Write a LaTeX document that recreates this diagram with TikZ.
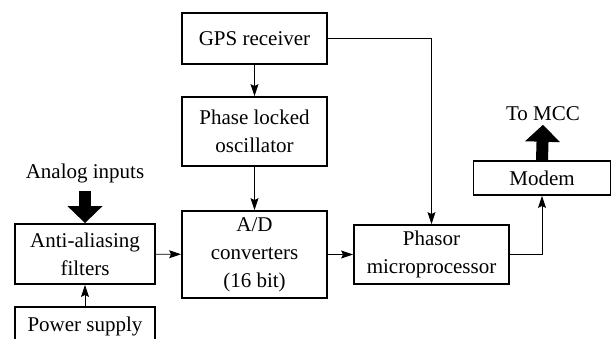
\documentclass[tikz,border=0pt]{standalone}
\usepackage{fontspec}
\setmainfont{Liberation Serif}
\usetikzlibrary{arrows.meta}
\begin{document}
\begin{tikzpicture}[x=1pt,y=-1pt,
  blk/.style={draw,line width=1.8pt,align=center,inner sep=0pt,
    font=\fontsize{21}{28}\selectfont},
  lbl/.style={anchor=base,font=\fontsize{21}{28}\selectfont},
  link/.style={line width=0.9pt,-{Stealth[length=12pt,width=8pt,inset=2pt]}},
  bigarrow/.style={line width=12pt,-{Triangle[length=17pt,width=34pt]}}]
\useasboundingbox (0,0) rectangle (612,338);
\node[blk,minimum width=145pt,minimum height=51pt] (gps) at (254.5,38.5) {GPS receiver};
\node[blk,minimum width=145pt,minimum height=69pt] (pll) at (254.5,131.5) {Phase locked\\oscillator};
\node[blk,minimum width=145pt,minimum height=87pt] (ad) at (254.5,254.5) {A/D\\converters\\(16 bit)};
\node[blk,minimum width=140pt,minimum height=60pt] (filt) at (85,254) {Anti-aliasing\\filters};
\node[blk,minimum width=140pt,minimum height=38pt] (power) at (85,326) {Power supply};
\node[blk,minimum width=155pt,minimum height=59pt] (phasor) at (431.5,254.5) {Phasor\\microprocessor};
\node[blk,minimum width=137pt,minimum height=34pt] (modem) at (542,178) {Modem};
\node[lbl] (analog) at (85,178) {Analog inputs};
\node[lbl] (mcc) at (543,120) {To MCC};
\draw[link] (gps) -- (pll);
\draw[link] (pll) -- (ad);
\draw[link] (filt) -- (ad);
\draw[link] (power) -- (filt);
\draw[link] (ad) -- (phasor);
\draw[link] (gps.east) -| (phasor.north);
\draw[link] (phasor.east) -| (modem.south);
\draw[bigarrow] ([yshift=-5pt]analog.south) -- (filt.north);
\draw[bigarrow] (modem.north) -- ([yshift=-1pt]mcc.south);
\end{tikzpicture}
\end{document}
